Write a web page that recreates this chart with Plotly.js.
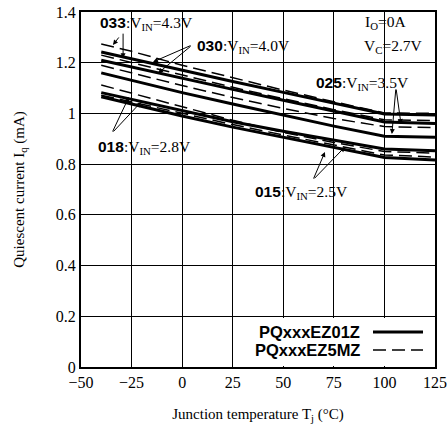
<!DOCTYPE html>
<html><head><meta charset="utf-8">
<script src="https://cdn.plot.ly/plotly-3.0.1.min.js"></script>
<style>html,body{margin:0;padding:0;background:#fff}#c{width:448px;height:424px}</style>
</head><body><div id="c"></div>
<script>
// Junction temperature (°C)
const temps = [-40, -25, 0, 25, 50, 75, 100, 125];
// PQxxxEZ01Z (solid) quiescent current, mA
const s033 = [1.242, 1.215, 1.170, 1.126, 1.083, 1.041, 0.998, 0.994];
const s030 = [1.210, 1.183, 1.138, 1.095, 1.052, 1.008, 0.966, 0.960];
const s025 = [1.160, 1.130, 1.082, 1.037, 0.992, 0.950, 0.910, 0.906];
const s018 = [1.082, 1.055, 1.010, 0.967, 0.930, 0.895, 0.860, 0.853];
const s015 = [1.066, 1.037, 0.990, 0.946, 0.906, 0.866, 0.826, 0.816];
// PQxxxEZ5MZ (dashed) quiescent current, mA
const d033 = [1.274, 1.245, 1.190, 1.140, 1.092, 1.046, 1.002, 1.000];
const d030 = [1.230, 1.200, 1.150, 1.103, 1.058, 1.015, 0.975, 0.972];
const d025 = [1.190, 1.160, 1.110, 1.063, 1.020, 0.980, 0.948, 0.944];
const d018 = [1.112, 1.080, 1.025, 0.973, 0.925, 0.885, 0.850, 0.843];
const d015 = [1.072, 1.045, 0.998, 0.956, 0.915, 0.876, 0.836, 0.828];

const xTicks = [-50, -25, 0, 25, 50, 75, 100, 125];
const yTicks = [0, 0.2, 0.4, 0.6, 0.8, 1, 1.2, 1.4];
const seriesNames = ['PQxxxEZ01Z', 'PQxxxEZ5MZ'];

const solidSet = [s033, s030, s025, s018, s015];
const dashSet = [d033, d030, d025, d018, d015];
const traces = [];
solidSet.forEach(v => traces.push({x: temps, y: v, mode: 'lines', line: {color: '#000', width: 3}, showlegend: false, hoverinfo: 'skip'}));
dashSet.forEach(v => traces.push({x: temps, y: v, mode: 'lines', line: {color: '#000', width: 1.5, dash: '13px,6px'}, showlegend: false, hoverinfo: 'skip'}));

const serif = 'Liberation Serif, Times New Roman, serif';
const sans = 'Liberation Sans, Arial, sans-serif';
function lab(num, vin) {
  return '<span style="font-family:Liberation Sans;font-weight:bold">' + num + '</span>:V<sub>IN</sub>=' + vin;
}
const ann = [];
function txt(x, y, t, xa) {
  ann.push({x: x, y: y, xref: 'x', yref: 'y', text: t, showarrow: false, xanchor: xa || 'left', yanchor: 'middle', font: {family: serif, size: 15.5, color: '#000'}});
}
txt(-41.6, 1.356, lab('033', '4.3V'));
txt(6.3, 1.262, lab('030', '4.0V'));
txt(89.4, 1.36, 'I<sub>O</sub>=0A');
txt(88.9, 1.262, 'V<sub>C</sub>=2.7V');
txt(65.2, 1.12, lab('025', '3.5V'));
txt(-42.6, 0.867, lab('018', '2.8V'));
txt(35, 0.69, lab('015', '2.5V'));

function arr(x, y, ax, ay) {
  ann.push({x: x, y: y, xref: 'x', yref: 'y', text: '', showarrow: true, ax: ax, ay: ay, arrowhead: 2, arrowsize: 1, arrowwidth: 1, arrowcolor: '#000', standoff: 0});
}
arr(-34.2, 1.270, 7, -9);
arr(-29.2, 1.218, 0, -26);
arr(-14.4, 1.203, 39, -17);
arr(-11.9, 1.159, 34, -28);
arr(103.7, 0.919, 4, -46);
arr(108.2, 0.958, -5, -36);
arr(-26.3, 1.065, -17, 36);
arr(-20.3, 1.045, -29, 31);
arr(70.6, 0.848, -12, 28);
arr(80.5, 0.868, -32, 33);

// legend (text left, sample right)
const px = p => (p - 81) / 354, py = p => (367 - p) / 355;
ann.push({x: px(362), y: py(332), xref: 'paper', yref: 'paper', text: '<b>' + seriesNames[0] + '</b>', showarrow: false, xanchor: 'right', yanchor: 'middle', font: {family: sans, size: 16.5, color: '#000'}});
ann.push({x: px(362), y: py(350), xref: 'paper', yref: 'paper', text: '<b>' + seriesNames[1] + '</b>', showarrow: false, xanchor: 'right', yanchor: 'middle', font: {family: sans, size: 16.5, color: '#000'}});
const shapes = [
  {type: 'rect', xref: 'paper', yref: 'paper', x0: px(240), x1: px(433), y0: py(366), y1: py(318), fillcolor: '#fff', line: {width: 0}, layer: 'above'},
  {type: 'line', xref: 'paper', yref: 'paper', x0: px(373), x1: px(423), y0: py(332), y1: py(332), line: {color: '#000', width: 3}, layer: 'above'},
  {type: 'line', xref: 'paper', yref: 'paper', x0: px(373), x1: px(423), y0: py(350), y1: py(350), line: {color: '#000', width: 1.5, dash: '13px,6px'}, layer: 'above'}
];

const layout = {
  width: 448, height: 424,
  margin: {l: 81, r: 13, t: 12, b: 57},
  paper_bgcolor: '#fff', plot_bgcolor: '#fff',
  showlegend: false,
  font: {family: serif, size: 15, color: '#000'},
  xaxis: {range: [-50, 125], tickvals: xTicks, showgrid: true, gridcolor: '#000', gridwidth: 1, zeroline: false,
    showline: true, linecolor: '#000', linewidth: 2, mirror: true, ticks: '', ticklen: 0,
    tickfont: {family: serif, size: 16}, title: {text: 'Junction temperature T<sub>j</sub> (°C)', font: {family: serif, size: 15}, standoff: 18}},
  yaxis: {range: [0, 1.4], tickvals: yTicks, showgrid: true, gridcolor: '#000', gridwidth: 1, zeroline: false,
    showline: true, linecolor: '#000', linewidth: 2, mirror: true, ticks: '', ticklen: 0,
    tickfont: {family: serif, size: 16}, title: {text: 'Quiescent current I<sub>q</sub> (mA)', font: {family: serif, size: 15}, standoff: 28}},
  annotations: ann,
  shapes: shapes
};
Plotly.newPlot('c', traces, layout, {staticPlot: true, displayModeBar: false});
</script></body></html>
